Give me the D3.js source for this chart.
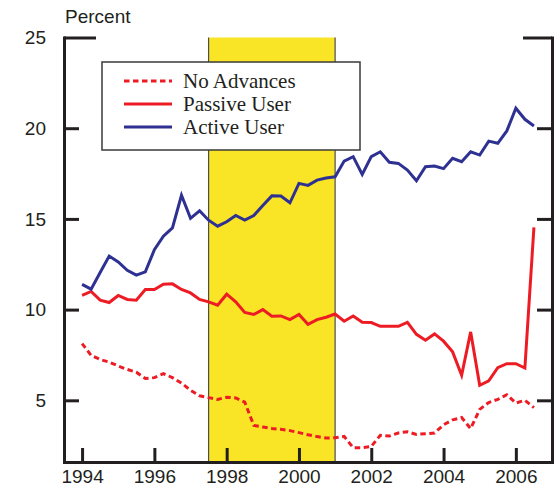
<!DOCTYPE html>
<html>
<head>
<meta charset="utf-8">
<script src="https://d3js.org/d3.v7.min.js"></script>
<style>
  body { margin: 0; background: #fff; }
  .axis text { font-family: "Liberation Sans", Arial, sans-serif; font-size: 19px; fill: #231f20; }
  .axis path, .axis line { stroke: #231f20; stroke-width: 3px; }
  .legend text { font-family: "Liberation Serif", "Times New Roman", serif; font-size: 21px; fill: #231f20; }
</style>
</head>
<body>
<div id="chart"></div>
<script>
// quarterly observations
var quarters = [
  "1994Q1","1994Q2","1994Q3","1994Q4","1995Q1","1995Q2","1995Q3","1995Q4",
  "1996Q1","1996Q2","1996Q3","1996Q4","1997Q1","1997Q2","1997Q3","1997Q4",
  "1998Q1","1998Q2","1998Q3","1998Q4","1999Q1","1999Q2","1999Q3","1999Q4",
  "2000Q1","2000Q2","2000Q3","2000Q4","2001Q1","2001Q2","2001Q3","2001Q4",
  "2002Q1","2002Q2","2002Q3","2002Q4","2003Q1","2003Q2","2003Q3","2003Q4",
  "2004Q1","2004Q2","2004Q3","2004Q4","2005Q1","2005Q2","2005Q3","2005Q4",
  "2006Q1","2006Q2","2006Q3"
];

var noAdvances = [
  8.13, 7.48, 7.25, 7.11, 6.89, 6.70, 6.55, 6.20,
  6.25, 6.47, 6.25, 5.95, 5.55, 5.25, 5.15, 5.05,
  5.17, 5.13, 4.90, 3.62, 3.53, 3.45, 3.40, 3.33,
  3.22, 3.10, 3.00, 2.92, 2.94, 3.01, 2.39, 2.39,
  2.46, 3.07, 3.03, 3.20, 3.27, 3.12, 3.16, 3.20,
  3.65, 3.92, 4.05, 3.44, 4.50, 4.88, 5.05, 5.31,
  4.85, 5.00, 4.60
];

var passiveUser = [
  10.79, 11.00, 10.52, 10.39, 10.78, 10.56, 10.52, 11.11,
  11.11, 11.40, 11.42, 11.11, 10.92, 10.56, 10.43, 10.24,
  10.85, 10.43, 9.84, 9.73, 10.00, 9.64, 9.65, 9.45,
  9.73, 9.19, 9.45, 9.58, 9.76, 9.36, 9.65, 9.30,
  9.29, 9.08, 9.08, 9.08, 9.30, 8.64, 8.31, 8.66,
  8.26, 7.67, 6.38, 8.77, 5.83, 6.07, 6.80, 7.02,
  7.02, 6.78, 14.53
];

var activeUser = [
  11.39, 11.13, 12.05, 12.95, 12.63, 12.17, 11.90, 12.08,
  13.30, 14.05, 14.50, 16.30, 15.03, 15.45, 14.93, 14.60,
  14.84, 15.19, 14.93, 15.19, 15.74, 16.27, 16.26, 15.89,
  16.96, 16.85, 17.14, 17.25, 17.32, 18.19, 18.43, 17.45,
  18.43, 18.70, 18.12, 18.06, 17.69, 17.10, 17.88, 17.91,
  17.77, 18.34, 18.15, 18.70, 18.52, 19.29, 19.17, 19.85,
  21.10, 20.49, 20.12
];

var seriesNames = ["No Advances", "Passive User", "Active User"];
var shadeSpan = [1997.5, 2001.0];
var yTicks = [5, 10, 15, 20, 25];
var xTicks = [1994, 1996, 1998, 2000, 2002, 2004, 2006];

var w = 560, h = 493;
var svg = d3.select("#chart").append("svg")
  .attr("width", w)
  .attr("height", h);

var x = d3.scaleLinear().domain([1993.5, 2007]).range([64, 552]);
var y = d3.scaleLinear().domain([1.6, 25]).range([462, 37.5]);

function toYear(q) {
  return +q.slice(0, 4) + (+q.slice(5) - 1) / 4;
}
var years = quarters.map(toYear);

// shaded period
svg.append("rect")
  .attr("x", x(shadeSpan[0]))
  .attr("y", y(25))
  .attr("width", x(shadeSpan[1]) - x(shadeSpan[0]))
  .attr("height", y.range()[0] - y(25))
  .attr("fill", "#f9e526");
shadeSpan.forEach(function (s) {
  svg.append("line")
    .attr("x1", x(s)).attr("x2", x(s))
    .attr("y1", y(25)).attr("y2", y.range()[0])
    .attr("stroke", "#4d4d4d").attr("stroke-width", 1.2);
});

// lines
var line = d3.line()
  .x(function (d, i) { return x(years[i]); })
  .y(function (d) { return y(d); });

var styles = [
  { data: noAdvances, color: "#ed1c24", dash: "5.5,3.5" },
  { data: passiveUser, color: "#ed1c24", dash: null },
  { data: activeUser, color: "#2e3192", dash: null }
];

styles.forEach(function (s) {
  svg.append("path")
    .datum(s.data)
    .attr("d", line)
    .attr("fill", "none")
    .attr("stroke", s.color)
    .attr("stroke-width", 3)
    .attr("stroke-dasharray", s.dash);
});

// axes
var left = svg.append("g")
  .attr("class", "axis")
  .attr("transform", "translate(" + x.range()[0] + ",0)")
  .call(d3.axisLeft(y).tickValues(yTicks).tickSizeInner(-15).tickSizeOuter(0).tickPadding(18));

var right = svg.append("g")
  .attr("class", "axis")
  .attr("transform", "translate(" + x.range()[1] + ",0)")
  .call(d3.axisRight(y).tickValues(yTicks).tickSizeInner(-15).tickSizeOuter(0).tickFormat(""));

left.selectAll(".tick").filter(function (d) { return d === 25; }).select("line").attr("x2", 32);
right.selectAll(".tick").filter(function (d) { return d === 25; }).select("line").attr("x2", -29);

svg.append("g")
  .attr("class", "axis")
  .attr("transform", "translate(0," + y.range()[0] + ")")
  .call(d3.axisBottom(x).tickValues(xTicks).tickSizeInner(-14).tickSizeOuter(0).tickPadding(8).tickFormat(d3.format("d")));

svg.selectAll(".axis .domain").attr("stroke-linecap", "square");

svg.append("text")
  .attr("x", 65).attr("y", 23)
  .style("font-family", "'Liberation Sans', Arial, sans-serif")
  .style("font-size", "19px")
  .style("fill", "#231f20")
  .text("Percent");

// legend
var legend = svg.append("g").attr("class", "legend");
legend.append("rect")
  .attr("x", 102).attr("y", 62)
  .attr("width", 258).attr("height", 88)
  .attr("fill", "#fff")
  .attr("stroke", "#3a3a3a")
  .attr("stroke-width", 1.5);

seriesNames.forEach(function (name, i) {
  var cy = 81 + i * 23;
  legend.append("line")
    .attr("x1", 124).attr("x2", 172)
    .attr("y1", cy).attr("y2", cy)
    .attr("stroke", styles[i].color)
    .attr("stroke-width", 3)
    .attr("stroke-dasharray", styles[i].dash);
  legend.append("text")
    .attr("x", 183).attr("y", cy + 7)
    .text(name);
});
</script>
</body>
</html>
